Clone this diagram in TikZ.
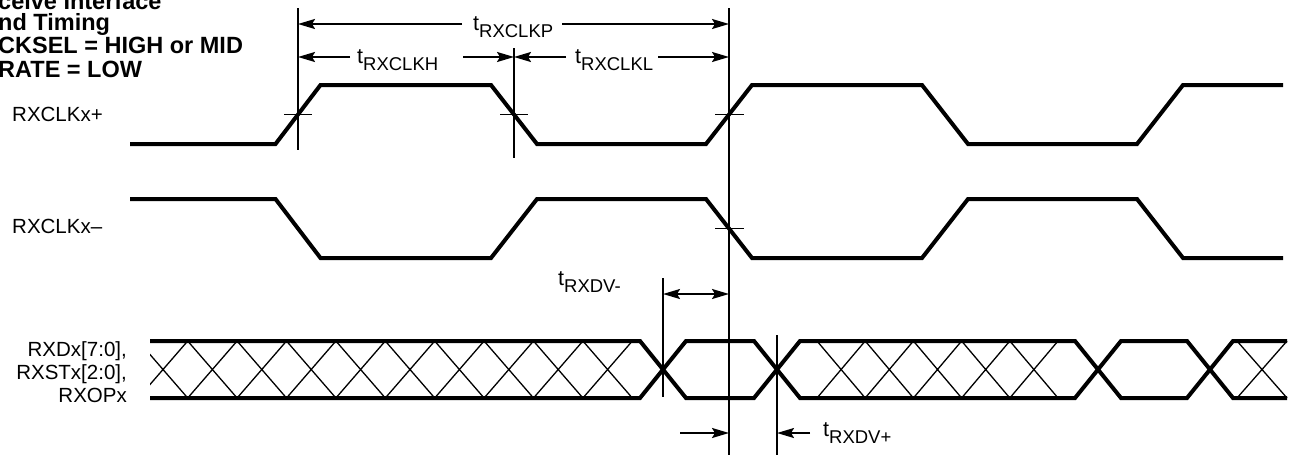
\documentclass[tikz,border=0pt]{standalone}
\usepackage{fontspec}
\setmainfont{Liberation Sans}
\usetikzlibrary{arrows.meta}
\newcommand{\tlab}[1]{{\fontsize{21.5}{21.5}\selectfont t}\raisebox{-7pt}{\fontsize{18.5}{18.5}\selectfont #1}}
\begin{document}
\begin{tikzpicture}[x=1pt,y=-1pt,
  sig/.style={line width=4pt, line join=miter},
  thinln/.style={line width=1.9pt},
  hatch/.style={line width=1.3pt},
  arr/.style={line width=1.9pt, -{Stealth[length=17pt,width=10pt,inset=3pt]}},
  arrboth/.style={line width=1.9pt, {Stealth[length=17pt,width=10pt,inset=3pt]}-{Stealth[length=17pt,width=10pt,inset=3pt]}},
  lab/.style={inner sep=0pt, font=\fontsize{20.5}{23}\selectfont},
  ttl/.style={inner sep=0pt, font=\fontsize{23.5}{24}\selectfont\bfseries, anchor=base west},
  tl/.style={inner sep=0pt, anchor=base west}]
\useasboundingbox (0,0) rectangle (1290,458);

% title
\node[ttl] (ti1) at (-2,9) {ceive Interface};
\node[ttl] (ti2) at (-2,30) {nd Timing};
\node[ttl] (ti3) at (-2,53) {CKSEL = HIGH or MID};
\node[ttl] (ti4) at (-2,77) {RATE = LOW};

% signal labels
\node[lab, anchor=base west] (lp) at (12,121) {RXCLKx+};
\node[lab, anchor=base west] (lm) at (12,233) {RXCLKx–};
\node[lab, anchor=base east] (ld1) at (127,356) {RXDx[7:0],};
\node[lab, anchor=base east] (ld2) at (127,379) {RXSTx[2:0],};
\node[lab, anchor=base east] (ld3) at (127,402) {RXOPx};

% clocks
\draw[sig] (130,144) -- (275.5,144) -- (320.5,85) -- (491,85) -- (537,144) -- (706,144) -- (752,85) -- (922,85) -- (968,144) -- (1137,144) -- (1183,85) -- (1283,85);
\draw[sig] (130,199) -- (275.5,199) -- (320.5,258) -- (491,258) -- (537,199) -- (706,199) -- (752,258) -- (922,258) -- (968,199) -- (1137,199) -- (1183,258) -- (1283,258);

% crossing ticks
\draw[thinln] (284,114.5) -- (312,114.5);
\draw[thinln] (500,114.5) -- (528,114.5);
\draw[thinln] (715,114.5) -- (744,114.5);
\draw[thinln] (715,228.5) -- (744,228.5);

% data bus
\draw[sig] (150,341) -- (640,341) -- (686,398) -- (754,398) -- (800,341) -- (1075,341) -- (1121,398) -- (1187,398) -- (1233,341) -- (1287,341);
\draw[sig] (150,398) -- (640,398) -- (686,341) -- (754,341) -- (800,398) -- (1075,398) -- (1121,341) -- (1187,341) -- (1233,398) -- (1287,398);

\begin{scope}
\clip (150,341) rectangle (640,398);
\foreach \k in {0,...,9}{
  \pgfmathsetmacro\xa{138.3+49.4*\k}
  \pgfmathsetmacro\xb{\xa+49.4}
  \draw[hatch] (\xa,341) -- (\xb,398) (\xa,398) -- (\xb,341);
}
\end{scope}
\foreach \k in {0,...,4}{
  \pgfmathsetmacro\xa{817+48.2*\k}
  \pgfmathsetmacro\xb{\xa+48.2}
  \draw[hatch] (\xa,341) -- (\xb,398) (\xa,398) -- (\xb,341);
}
\draw[hatch] (1237,341) -- (1287,398) (1237,398) -- (1287,341);

% vertical reference lines
\coordinate (v1t) at (298,8);   \coordinate (v1b) at (298,150);
\coordinate (v2t) at (514,48);  \coordinate (v2b) at (514,158);
\coordinate (v3t) at (729,8);   \coordinate (v3b) at (729,455);
\coordinate (v4t) at (663,278); \coordinate (v4b) at (663,397);
\coordinate (v5t) at (777,335); \coordinate (v5b) at (777,455);
\draw[thinln] (v1t) -- (v1b);
\draw[thinln] (v2t) -- (v2b);
\draw[thinln] (v3t) -- (v3b);
\draw[thinln] (v4t) -- (v4b);
\draw[thinln] (v5t) -- (v5b);

% timing labels
\node[tl] (tP) at (473,30) {\tlab{RXCLKP}};
\node[tl] (tH) at (357,63) {\tlab{RXCLKH}};
\node[tl] (tL) at (575,63) {\tlab{RXCLKL}};
\node[tl] (tDm) at (558,285) {\tlab{RXDV-}};
\node[tl] (tDp) at (823,436) {\tlab{RXDV+}};

% dimension arrows
\coordinate (pA) at (298,24); \coordinate (pB) at (462,24);
\coordinate (pC) at (562,24); \coordinate (pD) at (729,24);
\draw[arr] (pB) -- (pA);
\draw[arr] (pC) -- (pD);
\coordinate (hA) at (298,57); \coordinate (hB) at (350,57);
\coordinate (hC) at (463,57); \coordinate (hD) at (514,57);
\draw[arr] (hB) -- (hA);
\draw[arr] (hC) -- (hD);
\coordinate (lA) at (514,57); \coordinate (lB) at (566,57);
\coordinate (lC) at (658,57); \coordinate (lD) at (729,57);
\draw[arr] (lB) -- (lA);
\draw[arr] (lC) -- (lD);
\coordinate (dA) at (663,294); \coordinate (dB) at (729,294);
\draw[arrboth] (dA) -- (dB);
\coordinate (eA) at (680,433); \coordinate (eB) at (729,433);
\coordinate (eC) at (810,433); \coordinate (eD) at (777,433);
\draw[arr] (eA) -- (eB);
\draw[arr] (eC) -- (eD);
\end{tikzpicture}
\end{document}
